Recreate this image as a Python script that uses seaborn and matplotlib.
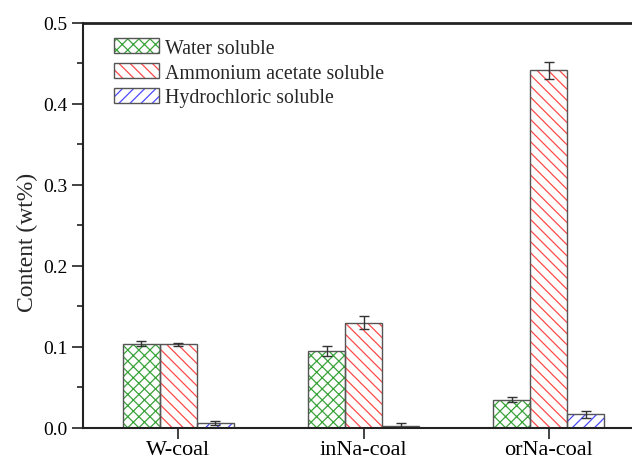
import matplotlib
matplotlib.use("Agg")
import matplotlib.pyplot as plt
from matplotlib.patches import Patch
import pandas as pd
import seaborn as sb

# values
samples = ["W-coal", "inNa-coal", "orNa-coal"]
fractions = ["Water soluble", "Ammonium acetate soluble", "Hydrochloric soluble"]
water = [0.104, 0.095, 0.035]
ammonium = [0.103, 0.130, 0.441]
hydrochloric = [0.006, 0.0025, 0.017]
water_err = [0.0028, 0.0066, 0.0033]
ammonium_err = [0.002, 0.0078, 0.0105]
hydrochloric_err = [0.0022, 0.0035, 0.0043]

values = [water, ammonium, hydrochloric]
errors = [water_err, ammonium_err, hydrochloric_err]
hatch_colors = ["#3aa33a", "#ff4a4a", "#4a4aff"]
hatches = ["xxx", "\\\\\\", "///"]
edge = "#555555"

rows = []
for f, vals in zip(fractions, values):
    for s, v in zip(samples, vals):
        rows.append({"sample": s, "fraction": f, "value": v})
df = pd.DataFrame(rows)

sb.set_style("ticks")
plt.rcParams["font.family"] = ["Liberation Serif", "DejaVu Serif"]
plt.rcParams["hatch.linewidth"] = 0.9

fig = plt.figure(figsize=(6.32, 4.56), dpi=100)
ax = fig.add_axes([83 / 632, 27 / 456, 577 / 632, 405.5 / 456])

# hatched fill
sb.barplot(data=df, x="sample", y="value", hue="fraction", order=samples,
           hue_order=fractions, palette={f: "white" for f in fractions},
           width=0.6, errorbar=None, legend=False, ax=ax)
for cont, h, hc in zip(ax.containers, hatches, hatch_colors):
    for bar in cont:
        bar.set_hatch(h)
        bar.set_edgecolor(hc)
        bar.set_linewidth(0)

# gray outlines on top
sb.barplot(data=df, x="sample", y="value", hue="fraction", order=samples,
           hue_order=fractions, palette={f: edge for f in fractions},
           width=0.6, errorbar=None, legend=False, fill=False, linewidth=1.0, ax=ax)

# error bars
for cont, err in zip(ax.containers[:3], errors):
    xs = [b.get_x() + b.get_width() / 2 for b in cont]
    ys = [b.get_height() for b in cont]
    ax.errorbar(xs, ys, yerr=err, fmt="none", ecolor="#333333", elinewidth=1.0,
                capsize=3.5, capthick=1.0, zorder=5)

ax.set_xlim(-0.515, 2.6)
ax.set_ylim(0, 0.5)
ax.set_yticks([0.0, 0.1, 0.2, 0.3, 0.4, 0.5])
ax.set_yticks([0.05, 0.15, 0.25, 0.35, 0.45], minor=True)
ax.set_yticklabels(["0.0", "0.1", "0.2", "0.3", "0.4", "0.5"])
ax.tick_params(axis="y", which="major", direction="out", length=8, width=1.2,
               labelsize=14, pad=3, colors="#222222", labelcolor="black")
ax.tick_params(axis="y", which="minor", direction="out", length=4, width=1.2,
               colors="#222222")
ax.tick_params(axis="x", direction="out", length=8, width=1.2, labelsize=16,
               pad=1, colors="#222222", labelcolor="black")
ax.set_xlabel("")
ax.set_ylabel("Content (wt%)", fontsize=17)
ax.yaxis.set_label_coords(-0.078, 0.461)

for side in ["left", "bottom"]:
    ax.spines[side].set_linewidth(1.5)
    ax.spines[side].set_color("#222222")
ax.spines["top"].set_visible(True)
ax.spines["top"].set_linewidth(2)
ax.spines["top"].set_color("#222222")
ax.spines["right"].set_visible(False)

handles = [(Patch(facecolor="white", edgecolor=hc, hatch=h, linewidth=0),
            Patch(facecolor="none", edgecolor=edge, linewidth=1.0))
           for h, hc in zip(hatches, hatch_colors)]
ax.legend(handles, fractions, loc="upper left", bbox_to_anchor=(0.054, 0.961),
          frameon=False, fontsize=14.3, handlelength=2.27, handleheight=0.77,
          handletextpad=0.3, labelspacing=0.28, borderpad=0, borderaxespad=0)

fig.savefig("out.png", dpi=100)
